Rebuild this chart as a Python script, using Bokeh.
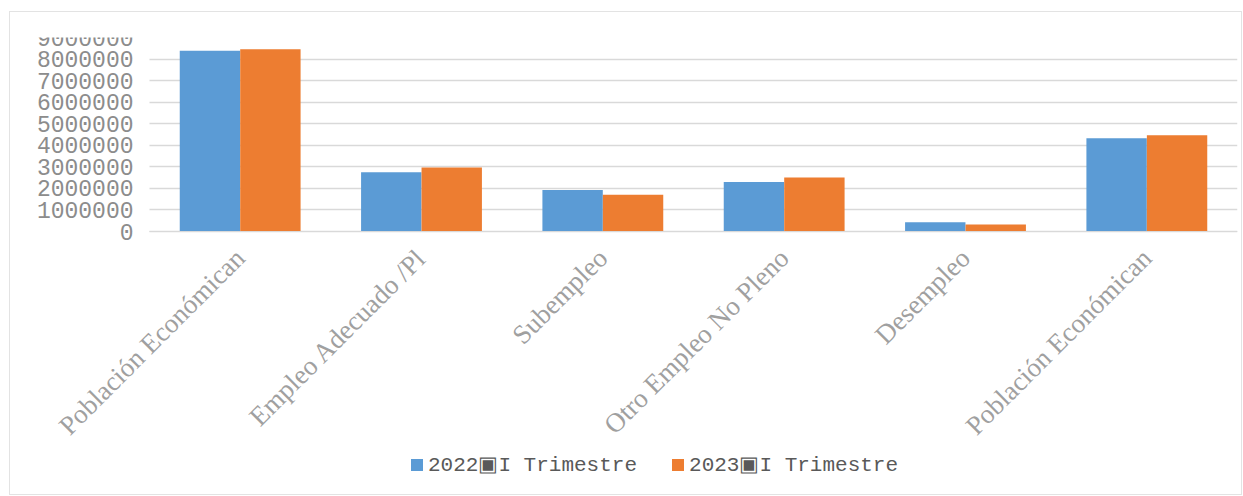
from bokeh.plotting import figure
from bokeh.models import ColumnDataSource, Range1d, FixedTicker, Legend, LegendItem
from bokeh.transform import dodge
from bokeh.embed import file_html
from bokeh.resources import INLINE
import math

categories = ["Población Económican", "Empleo Adecuado /Pl", "Subempleo",
              "Otro Empleo No Pleno", "Desempleo", "Población Económican"]
serie_2022 = [8380000, 2750000, 1920000, 2300000, 430000, 4330000]
serie_2023 = [8460000, 2970000, 1700000, 2510000, 330000, 4470000]
series_names = ["2022▣I Trimestre", "2023▣I Trimestre"]
y_ticks = [0, 1000000, 2000000, 3000000, 4000000, 5000000, 6000000, 7000000, 8000000, 9000000]
y_tick_labels = ["0", "1000000", "2000000", "3000000", "4000000", "5000000",
                 "6000000", "7000000", "8000000", "9000000"]

n = len(categories)
idx = list(range(n))
src = ColumnDataSource(dict(idx=idx, a=serie_2022, b=serie_2023))

# value axis occupies the upper 194 px of a 448 px frame; the rest holds labels and legend
y_max = 9000000
y_min = -y_max * 254 / 194
# plot area spans 1088 px for the categories; 119 px extra on the left hold the y labels
x_start = -0.5 - 119 * n / 1088

p = figure(frame_width=1207, frame_height=448, output_backend="svg", toolbar_location=None,
           x_range=Range1d(x_start, n - 0.5), y_range=Range1d(y_min, y_max),
           min_border_left=20, min_border_right=4, min_border_top=25, min_border_bottom=9)
p.styles = {"border": "1px solid #e3e3e3", "margin-left": "9px", "margin-top": "11px"}

r1 = p.vbar(x=dodge("idx", -0.1667, range=p.x_range), top="a", width=0.333, source=src,
            fill_color="#5b9bd5", line_color=None)
r2 = p.vbar(x=dodge("idx", 0.1667, range=p.x_range), top="b", width=0.333, source=src,
            fill_color="#ed7d31", line_color=None)

p.outline_line_color = None
p.xgrid.grid_line_color = None
p.ygrid.grid_line_color = "#d9d9d9"
p.ygrid.grid_line_width = 1.5
for g in p.ygrid:
    if hasattr(g, "cross_bounds"):
        g.cross_bounds = (-0.5, n - 0.5)

p.yaxis.fixed_location = -0.5
p.yaxis.ticker = FixedTicker(ticks=y_ticks)
p.yaxis.major_label_overrides = {t: l for t, l in zip(y_ticks, y_tick_labels)}
p.yaxis.axis_line_color = None
p.yaxis.major_tick_line_color = None
p.yaxis.minor_tick_line_color = None
p.yaxis.major_label_text_font = "Liberation Mono"
p.yaxis.major_label_text_font_size = "23px"
p.yaxis.major_label_text_color = "#8c8c8c"
p.yaxis.major_label_standoff = 10

p.xaxis.fixed_location = 0
p.xaxis.bounds = (-0.5, n - 0.5)
p.xaxis.ticker = FixedTicker(ticks=idx)
p.xaxis.major_label_overrides = {i: c for i, c in zip(idx, categories)}
p.xaxis.major_label_orientation = math.pi / 4
p.xaxis.axis_line_color = "#d9d9d9"
p.xaxis.major_tick_line_color = None
p.xaxis.minor_tick_line_color = None
p.xaxis.major_label_text_font = "Liberation Serif"
p.xaxis.major_label_text_font_size = "27px"
p.xaxis.major_label_text_color = "#a0a0a0"
p.xaxis.major_label_standoff = 16

legend = Legend(items=[LegendItem(label=series_names[0], renderers=[r1]),
                       LegendItem(label=series_names[1], renderers=[r2])],
                orientation="horizontal", location=(379, 8),
                glyph_width=15, glyph_height=15, label_standoff=4, spacing=33,
                padding=0, margin=0, border_line_color=None, background_fill_alpha=0,
                label_text_font="Liberation Mono", label_text_font_size="21px",
                label_text_color="#595959")
p.add_layout(legend)

open("out.html", "w").write(file_html(p, INLINE))
